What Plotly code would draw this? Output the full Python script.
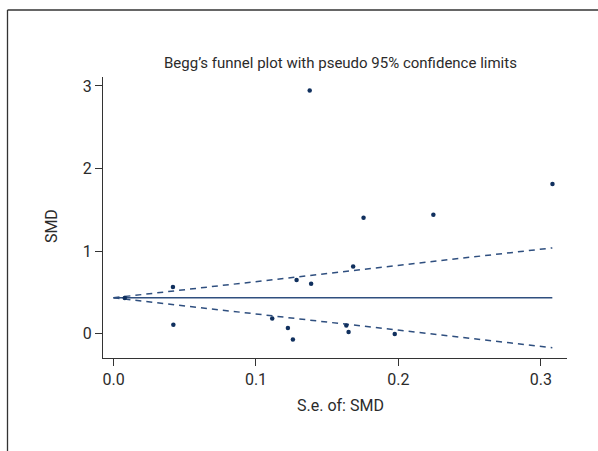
import plotly.graph_objects as go

# ---- data ----
se = [0.1377, 0.3081, 0.1755, 0.2245, 0.1682, 0.1285, 0.1387, 0.0417,
      0.0420, 0.1114, 0.1224, 0.1259, 0.1634, 0.1650, 0.1974, 0.0079]
smd = [2.946, 1.812, 1.404, 1.441, 0.815, 0.650, 0.605, 0.565,
       0.109, 0.185, 0.069, -0.069, 0.100, 0.020, -0.004, 0.432]
pooled = 0.435
se_line = [0.0, 0.308]
x_ticks = [0.0, 0.1, 0.2, 0.3]
x_ticklabels = ["0.0", "0.1", "0.2", "0.3"]
y_ticks = [0, 1, 2, 3]
y_ticklabels = ["0", "1", "2", "3"]

title_text = "Begg’s funnel plot with pseudo 95% confidence limits"
x_title = "S.e. of: SMD"
y_title = "SMD"

W, H = 598, 451
L, R, T, B = 103, 31, 77, 93
FONT = "Roboto, DejaVu Sans Condensed, sans-serif"
FS = 15
TXT = "#2b2b2b"
LINE = "#2f4f7f"
DOT = "#10305e"

upper = [pooled + 1.96 * s for s in se_line]
lower = [pooled - 1.96 * s for s in se_line]

fig = go.Figure()
fig.add_trace(go.Scatter(x=se_line, y=[pooled, pooled], mode="lines",
                         line=dict(color=LINE, width=1.6), showlegend=False))
fig.add_trace(go.Scatter(x=se_line, y=upper, mode="lines",
                         line=dict(color=LINE, width=1.5, dash="6px,5px"), showlegend=False))
fig.add_trace(go.Scatter(x=se_line, y=lower, mode="lines",
                         line=dict(color=LINE, width=1.5, dash="6px,5px"), showlegend=False))
fig.add_trace(go.Scatter(x=se, y=smd, mode="markers",
                         marker=dict(color=DOT, size=4.5), showlegend=False))

pw = W - L - R
ph = H - T - B

def px_x(p):
    return (p - L) / pw

def px_y(p):
    return (H - B - p) / ph

fig.update_layout(
    width=W, height=H,
    margin=dict(l=L, r=R, t=T, b=B, pad=0),
    paper_bgcolor="white", plot_bgcolor="white",
    font=dict(family=FONT, size=FS, color=TXT),
    xaxis=dict(range=[-0.00738, 0.3183], tickvals=x_ticks, ticktext=x_ticklabels,
               showgrid=False, zeroline=False, showline=True, linecolor="#333333",
               linewidth=1.3, ticks="outside", ticklen=7, tickcolor="#333333",
               tickwidth=1.3, tickfont=dict(size=16, color=TXT)),
    yaxis=dict(range=[-0.294, 3.108], tickvals=y_ticks, ticktext=y_ticklabels,
               showgrid=False, zeroline=False, showline=True, linecolor="#333333",
               linewidth=1.3, ticks="outside", ticklen=7, tickcolor="#333333",
               tickwidth=1.3, tickfont=dict(size=16, color=TXT)),
    annotations=[
        dict(text=title_text, xref="paper", yref="paper", x=px_x(340.5), y=px_y(62.7),
             xanchor="center", yanchor="middle", showarrow=False,
             font=dict(size=FS, color=TXT)),
        dict(text=x_title, xref="paper", yref="paper", x=px_x(340.5), y=px_y(406),
             xanchor="center", yanchor="middle", showarrow=False,
             font=dict(size=16, color=TXT)),
        dict(text=y_title, xref="paper", yref="paper", x=px_x(52.3), y=px_y(225.8),
             xanchor="center", yanchor="middle", showarrow=False, textangle=-90,
             font=dict(size=16, color=TXT)),
    ],
    shapes=[
        dict(type="line", xref="paper", yref="paper", x0=px_x(7.5), x1=px_x(600),
             y0=px_y(10), y1=px_y(10), line=dict(color="#333333", width=1.3)),
        dict(type="line", xref="paper", yref="paper", x0=px_x(7.5), x1=px_x(7.5),
             y0=px_y(10), y1=px_y(455), line=dict(color="#333333", width=1.3)),
    ],
)

fig.write_html("out.html")
